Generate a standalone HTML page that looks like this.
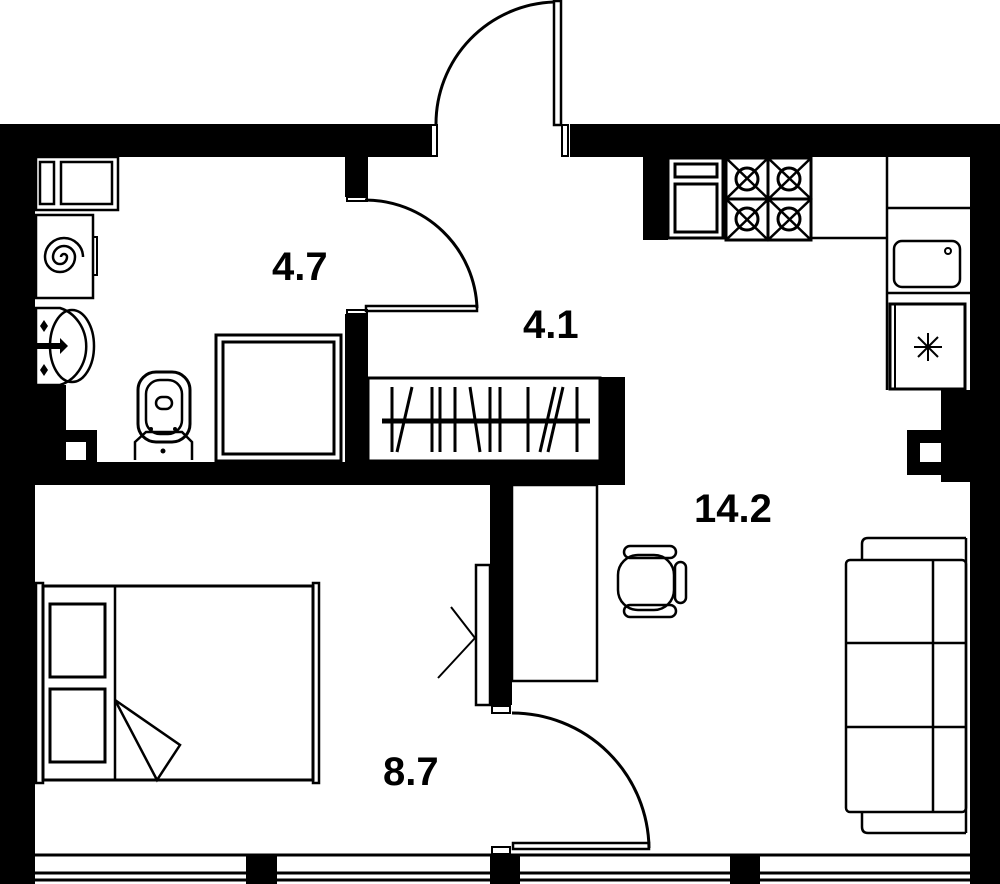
<!DOCTYPE html>
<html><head><meta charset="utf-8"><style>
html,body{margin:0;padding:0;background:#fff;}
svg{display:block;}
text{font-family:"Liberation Sans",sans-serif;font-weight:bold;font-size:40px;fill:#000;}
</style></head><body>
<svg width="1000" height="884" viewBox="0 0 1000 884" xmlns="http://www.w3.org/2000/svg">
<rect width="1000" height="884" fill="#fff"/>
<g fill="#000">
<rect x="0" y="124" width="430" height="33"/>
<rect x="570" y="124" width="430" height="33"/>
<rect x="0" y="124" width="35" height="760"/>
<rect x="970" y="124" width="30" height="760"/>
<rect x="345" y="157" width="23" height="40"/>
<rect x="345" y="314" width="23" height="171"/>
<rect x="35" y="462" width="590" height="23"/>
<rect x="600" y="377" width="25" height="108"/>
<rect x="35" y="385" width="31" height="77"/>
<rect x="66" y="430" width="31" height="32"/>
<rect x="643" y="157" width="25" height="83"/>
<rect x="941" y="390" width="29" height="92"/>
<rect x="907" y="430" width="34" height="45"/>
<rect x="490" y="485" width="22" height="220"/>
<rect x="246" y="854" width="31" height="30"/>
<rect x="490" y="854" width="30" height="30"/>
<rect x="730" y="854" width="30" height="30"/>
</g>
<g fill="#fff">
<rect x="66" y="442" width="20" height="18"/>
<rect x="920" y="443" width="21" height="19"/>
</g>
<g fill="none" stroke="#000" stroke-width="3">
<line x1="35" y1="855" x2="970" y2="855"/>
<line x1="35" y1="873" x2="970" y2="873"/>
<line x1="35" y1="880" x2="970" y2="880"/>
<rect x="431" y="125" width="6" height="31" stroke-width="2"/>
<rect x="562" y="125" width="6" height="31" stroke-width="2"/>
<rect x="554" y="1" width="7" height="124" stroke-width="2.5"/>
<path d="M554 2 A122 122 0 0 0 436 124"/>
<rect x="347" y="197" width="20" height="4" stroke-width="2"/>
<rect x="347" y="310" width="20" height="4" stroke-width="2"/>
<rect x="366" y="306" width="111" height="5" stroke-width="2.5"/>
<path d="M365 200 A112 112 0 0 1 477 308"/>
<rect x="368" y="378" width="232" height="83" stroke-width="3"/>
<line x1="382" y1="421" x2="590" y2="421" stroke-width="5"/>
<g stroke-width="3">
<line x1="392" y1="387" x2="392" y2="452"/><line x1="397" y1="452" x2="412" y2="387"/>
<line x1="432" y1="387" x2="432" y2="452"/><line x1="440" y1="387" x2="440" y2="452"/>
<line x1="455" y1="387" x2="455" y2="452"/><line x1="470" y1="387" x2="480" y2="452"/>
<line x1="490" y1="387" x2="490" y2="452"/><line x1="500" y1="387" x2="500" y2="452"/>
<line x1="528" y1="387" x2="528" y2="452"/><line x1="540" y1="452" x2="555" y2="387"/>
<line x1="548" y1="452" x2="563" y2="387"/><line x1="577" y1="387" x2="577" y2="452"/>
</g>
<rect x="36" y="157" width="82" height="53" stroke-width="2.5"/>
<rect x="40" y="162" width="14" height="42" stroke-width="2.5"/>
<rect x="61" y="162" width="51" height="42" stroke-width="2.5"/>
<rect x="36" y="215" width="57" height="83" stroke-width="2.5"/>
<rect x="93" y="237" width="4" height="38" stroke-width="2"/>
<path d="M61 257 a3 3 0 1 1 6 0 a7 7 0 1 1 -14 0 a11 11 0 1 1 22 0 a15 15 0 1 1 -30 0 a19 19 0 1 1 38 0" stroke-width="2.5"/>
<path d="M36 308 L60 308 A36 40 0 0 1 60 385 L36 385 Z" stroke-width="2.5"/>
<ellipse cx="72" cy="346" rx="22" ry="36" stroke-width="2.5"/>
<rect x="138" y="372" width="52" height="70" rx="18" stroke-width="3"/>
<rect x="146" y="380" width="36" height="54" rx="14" stroke-width="2.5"/>
<rect x="156" y="397" width="16" height="12" rx="6" stroke-width="2.5"/>
<path d="M135 460 L135 442 L146 432 L182 432 L192 442 L192 460" stroke-width="2.5"/>
<rect x="216" y="335" width="125" height="126" stroke-width="3"/>
<rect x="223" y="342" width="111" height="112" stroke-width="3"/>
<rect x="668" y="158" width="55" height="80" stroke-width="3"/>
<rect x="675" y="164" width="42" height="13" stroke-width="3"/>
<rect x="675" y="184" width="42" height="48" stroke-width="3"/>
<rect x="726" y="158" width="85" height="82" stroke-width="3"/>
<line x1="768" y1="158" x2="768" y2="240"/><line x1="726" y1="199" x2="811" y2="199"/>
<path d="M726 158 L811 240 M811 158 L726 240 M726 199 L768 240 L811 199 L768 158 Z" stroke-width="2.5"/>
<circle cx="747" cy="179" r="11"/><circle cx="789" cy="179" r="11"/>
<circle cx="747" cy="219" r="11"/><circle cx="789" cy="219" r="11"/>
<line x1="811" y1="238" x2="887" y2="238" stroke-width="2.5"/>
<line x1="887" y1="157" x2="887" y2="390" stroke-width="2.5"/>
<line x1="887" y1="208" x2="970" y2="208" stroke-width="2.5"/>
<rect x="894" y="241" width="66" height="46" rx="8" stroke-width="2.5"/>
<circle cx="948" cy="251" r="3" stroke-width="2"/>
<line x1="887" y1="293" x2="970" y2="293" stroke-width="2.5"/>
<rect x="890" y="304" width="75" height="85" stroke-width="3"/>
<line x1="895" y1="304" x2="895" y2="389" stroke-width="2"/>
<path d="M928 333 V361 M914 347 H942 M918 337 L938 357 M938 337 L918 357" stroke-width="2"/>
<rect x="512" y="485" width="85" height="196" stroke-width="2.5"/>
<rect x="476" y="565" width="14" height="140" stroke-width="2.5"/>
<path d="M438 678 L475 638 L451 607" stroke-width="2"/>
<rect x="492" y="706" width="18" height="7" stroke-width="2"/>
<rect x="492" y="847" width="18" height="7" stroke-width="2"/>
<rect x="513" y="843" width="136" height="6" stroke-width="2.5"/>
<path d="M512 713 A137 137 0 0 1 649 848"/>
<rect x="36" y="583" width="7" height="200" stroke-width="2.5"/>
<rect x="43" y="586" width="270" height="194" stroke-width="3"/>
<rect x="313" y="583" width="6" height="200" stroke-width="2.5"/>
<line x1="115" y1="586" x2="115" y2="780" stroke-width="2.5"/>
<rect x="50" y="604" width="55" height="73" stroke-width="3"/>
<rect x="50" y="689" width="55" height="73" stroke-width="3"/>
<path d="M115 700 L180 745 L157 780 Z" stroke-width="2.5"/>
<rect x="618" y="555" width="56" height="55" rx="20" stroke-width="2.5"/>
<rect x="624" y="546" width="52" height="12" rx="6" stroke-width="2.5"/>
<rect x="624" y="605" width="52" height="12" rx="6" stroke-width="2.5"/>
<rect x="675" y="562" width="11" height="41" rx="5.5" stroke-width="2.5"/>
<path d="M966 538 H868 Q862 538 862 544 V560" stroke-width="2.5"/>
<path d="M966 833 H868 Q862 833 862 827 V812" stroke-width="2.5"/>
<rect x="846" y="560" width="120" height="252" rx="4" stroke-width="2.5"/>
<line x1="846" y1="643" x2="966" y2="643" stroke-width="2.5"/>
<line x1="846" y1="727" x2="966" y2="727" stroke-width="2.5"/>
<line x1="933" y1="560" x2="933" y2="812" stroke-width="2.5"/>
<line x1="966" y1="538" x2="966" y2="833" stroke-width="2.5"/>
</g>
<g fill="#000">
<path d="M40 326 l4 -6 l4 6 l-4 6 Z M40 370 l4 -6 l4 6 l-4 6 Z"/>
<path d="M35 343 H60 V338 L68 346 L60 354 V349 H35 Z"/>
<circle cx="151" cy="429" r="2"/><circle cx="175" cy="429" r="2"/><circle cx="163" cy="451" r="2.5"/>
</g>
<text x="272" y="280">4.7</text>
<text x="523" y="338">4.1</text>
<text x="694" y="522">14.2</text>
<text x="383" y="785">8.7</text>
</svg>
</body></html>
